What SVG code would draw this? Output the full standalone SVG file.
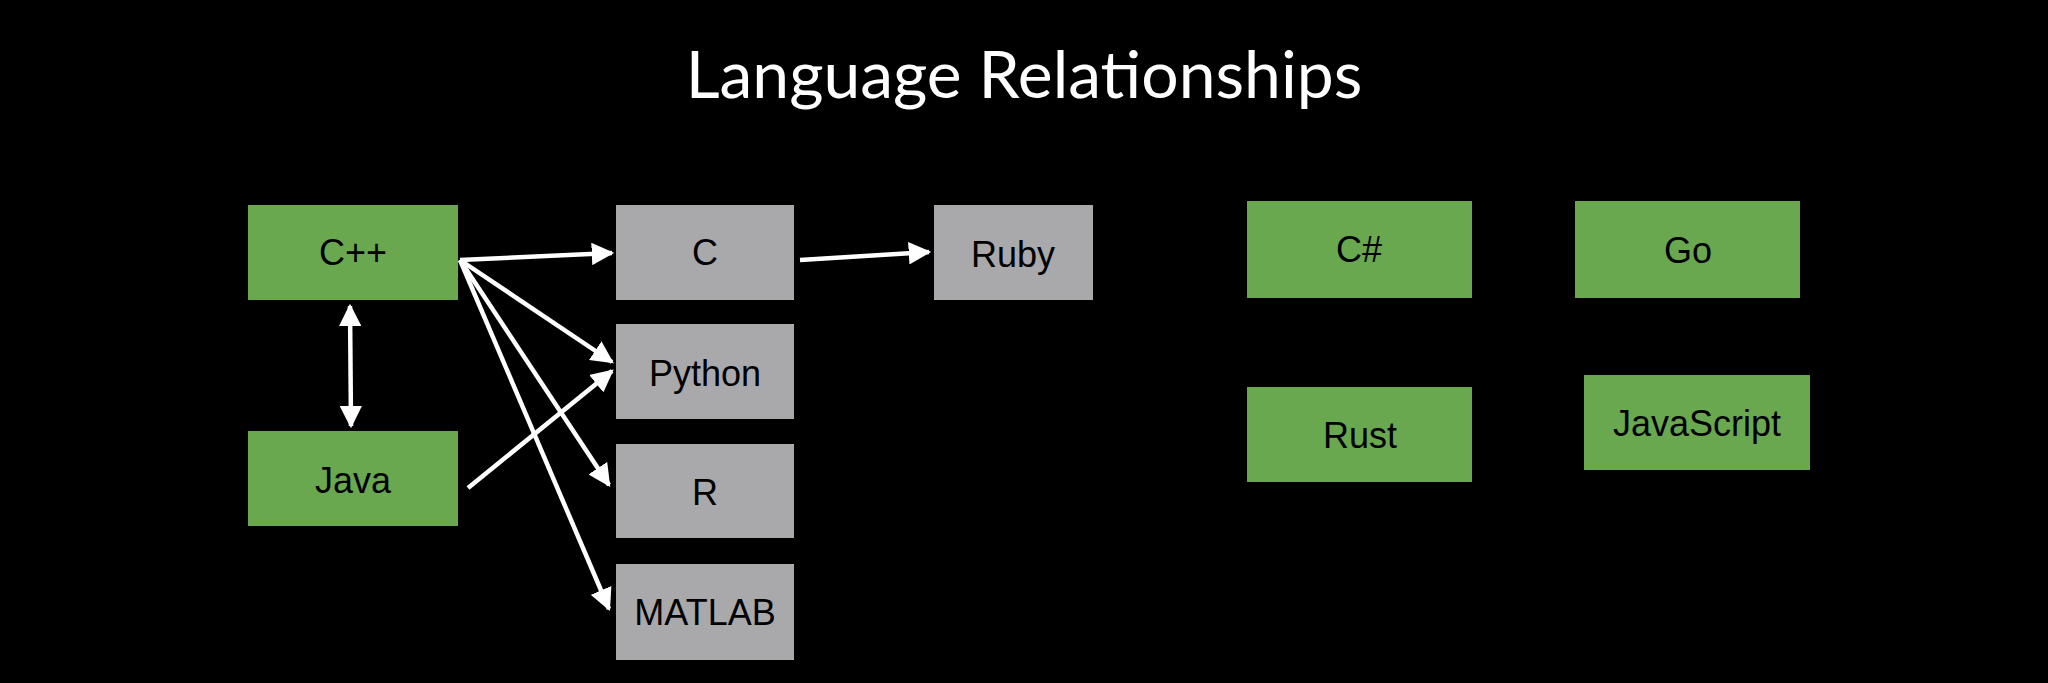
<svg xmlns="http://www.w3.org/2000/svg" width="2048" height="683" viewBox="0 0 2048 683">
<style>
.g{fill:#6aa84f}.s{fill:#a9a9ab}
.t{font-family:"Liberation Sans",Arial,sans-serif;font-size:36px;fill:#000;text-anchor:middle;dominant-baseline:central}
.c{stroke:#fff;stroke-width:4.5;fill:none}
</style>
<defs>
<marker id="a" viewBox="0 0 10 10" refX="9" refY="5" markerWidth="5" markerHeight="5" orient="auto-start-reverse" markerUnits="strokeWidth"><path d="M0,0L10,5L0,10z" fill="#fff"/></marker>
</defs>
<rect width="2048" height="683" fill="#000"/>
<text x="1024" y="98" font-family="Lato,'Open Sans',sans-serif" font-size="66" fill="#fff" text-anchor="middle">Language Relationships</text>
<g id="edges">
<line class="c" x1="460" y1="260" x2="612" y2="253" marker-end="url(#a)"/>
<line class="c" x1="800" y1="260" x2="929" y2="252" marker-end="url(#a)"/>
<line class="c" x1="460" y1="260" x2="612" y2="362" marker-end="url(#a)"/>
<line class="c" x1="460" y1="260" x2="609" y2="485" marker-end="url(#a)"/>
<line class="c" x1="460" y1="260" x2="609" y2="609" marker-end="url(#a)"/>
<line class="c" x1="468" y1="488" x2="612" y2="371" marker-end="url(#a)"/>
<line class="c" x1="350" y1="306" x2="351" y2="426" marker-start="url(#a)" marker-end="url(#a)"/>
</g>
<g id="cpp"><rect class="g" x="248" y="205" width="210" height="95"/><text class="t" x="353" y="252">C++</text></g>
<g id="c"><rect class="s" x="616" y="205" width="178" height="95"/><text class="t" x="705" y="252">C</text></g>
<g id="ruby"><rect class="s" x="934" y="205" width="159" height="95"/><text class="t" x="1013" y="254">Ruby</text></g>
<g id="python"><rect class="s" x="616" y="324" width="178" height="95"/><text class="t" x="705" y="373">Python</text></g>
<g id="r"><rect class="s" x="616" y="444" width="178" height="94"/><text class="t" x="705" y="492">R</text></g>
<g id="matlab"><rect class="s" x="616" y="564" width="178" height="96"/><text class="t" x="705" y="612">MATLAB</text></g>
<g id="java"><rect class="g" x="248" y="431" width="210" height="95"/><text class="t" x="353" y="480">Java</text></g>
<g id="csharp"><rect class="g" x="1247" y="201" width="225" height="97"/><text class="t" x="1359" y="249">C#</text></g>
<g id="go"><rect class="g" x="1575" y="201" width="225" height="97"/><text class="t" x="1688" y="250">Go</text></g>
<g id="rust"><rect class="g" x="1247" y="387" width="225" height="95"/><text class="t" x="1360" y="435">Rust</text></g>
<g id="js"><rect class="g" x="1584" y="375" width="226" height="95"/><text class="t" x="1697" y="423">JavaScript</text></g>
</svg>
